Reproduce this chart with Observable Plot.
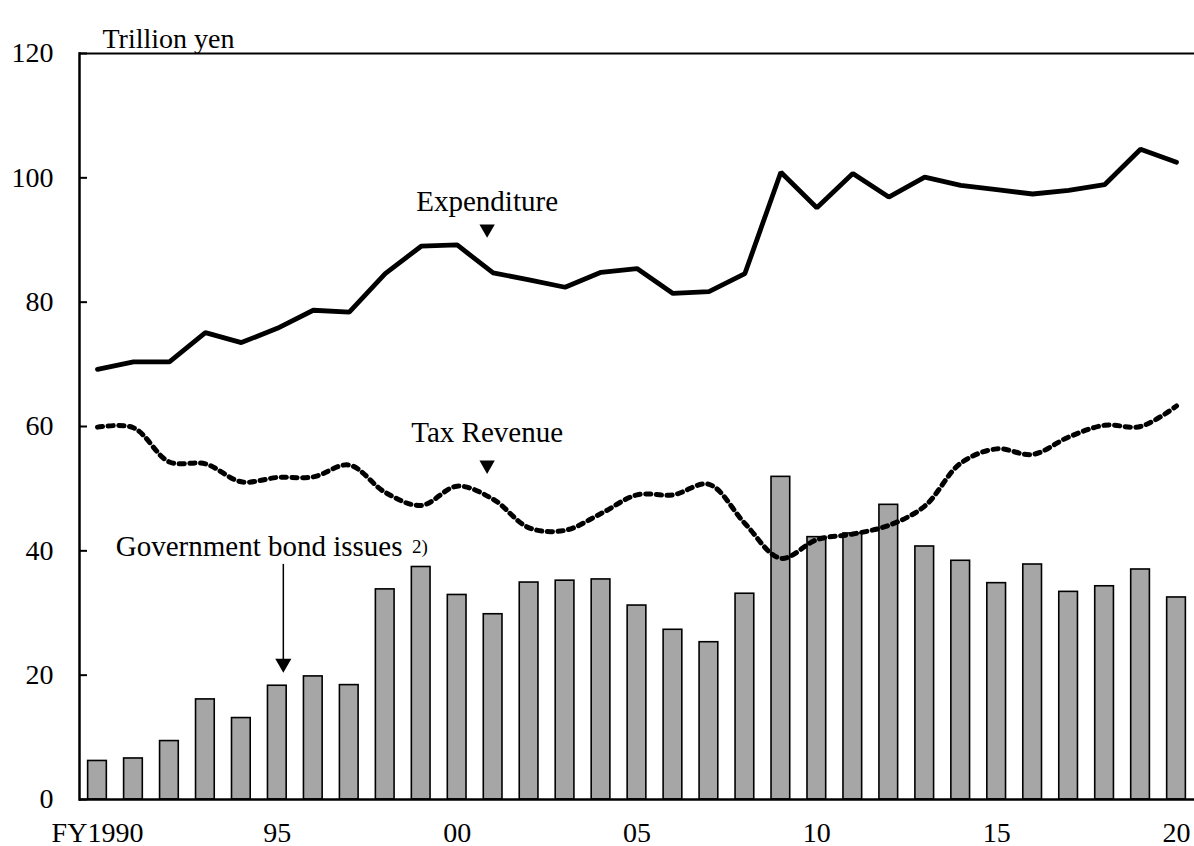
<!DOCTYPE html>
<html>
<head>
<meta charset="utf-8">
<script src="https://cdn.jsdelivr.net/npm/d3@7"></script>
<script src="https://cdn.jsdelivr.net/npm/@observablehq/plot@0.6"></script>
<style>
  body { margin: 0; background: #fff; }
  #chart svg { display: block; }
  #chart svg text { font-family: "Liberation Serif", "Times New Roman", serif; }
</style>
</head>
<body>
<div id="chart"></div>
<script>
// Fiscal years
const years = [1990, 1991, 1992, 1993, 1994, 1995, 1996, 1997, 1998, 1999,
               2000, 2001, 2002, 2003, 2004, 2005, 2006, 2007, 2008, 2009,
               2010, 2011, 2012, 2013, 2014, 2015, 2016, 2017, 2018, 2019, 2020];

// Trillion yen
const expenditure = [69.2, 70.4, 70.4, 75.1, 73.5, 75.8, 78.7, 78.4, 84.6, 89.0,
                     89.2, 84.7, 83.6, 82.4, 84.8, 85.4, 81.4, 81.7, 84.6, 100.9,
                     95.2, 100.7, 96.9, 100.1, 98.8, 98.1, 97.4, 98.0, 98.9, 104.6, 102.5];

const taxRevenue = [59.9, 59.8, 54.3, 54.0, 51.1, 51.8, 51.9, 53.8, 49.4, 47.3,
                    50.4, 48.3, 43.7, 43.3, 46.0, 49.0, 49.0, 50.7, 44.4, 38.8,
                    41.8, 42.7, 44.1, 47.2, 54.1, 56.4, 55.5, 58.3, 60.2, 60.0, 63.3];

const bondIssues = [6.2, 6.6, 9.4, 16.1, 13.1, 18.3, 19.8, 18.4, 33.8, 37.4,
                    32.9, 29.8, 34.9, 35.2, 35.4, 31.2, 27.3, 25.3, 33.1, 51.9,
                    42.2, 42.8, 47.4, 40.7, 38.4, 34.8, 37.8, 33.4, 34.3, 37.0, 32.5];

// Axis ticks
const xTickYears = [1990, 1995, 2000, 2005, 2010, 2015, 2020];
const xTickLabels = ["FY1990", "95", "00", "05", "10", "15", "20"];
const yTicks = [0, 20, 40, 60, 80, 100, 120];

// Annotations
const seriesLabels = [
  {text: "Expenditure", year: 2001, value: 96.1},
  {text: "Tax Revenue", year: 2001, value: 59.0}
];
const pointers = [
  {year: 2001, value: 91.8},
  {year: 2001, value: 53.8}
];
const bondLabel = {text: "Government bond issues", note: "2)", year: 1990, value: 40.6, noteValue: 40.7};
const bondArrow = {year: 1995, from: 37.9, to: 22.3, head: 21.9};

const rows = years.map((year, i) => ({
  year,
  expenditure: expenditure[i],
  tax: taxRevenue[i],
  bonds: bondIssues[i]
}));

const serif = '"Liberation Serif", "Times New Roman", serif';

const chart = Plot.plot({
  width: 1194,
  height: 846,
  marginLeft: 79,
  marginRight: 0,
  marginTop: 53,
  marginBottom: 47,
  style: {fontFamily: serif, fontSize: "28px", color: "#000", background: "#fff", overflow: "visible"},
  x: {type: "band", domain: years, paddingInner: 0.48, paddingOuter: 0.24, round: false, label: null},
  y: {domain: [0, 120], label: null},
  marks: [
    Plot.barY(rows, {x: "year", y: "bonds", fill: "#a6a6a6", stroke: "#000", strokeWidth: 1.6}),
    Plot.line(rows, {x: "year", y: "expenditure", stroke: "#000", strokeWidth: 4.8, strokeLinejoin: "miter"}),
    Plot.line(rows, {x: "year", y: "tax", stroke: "#000", strokeWidth: 5, strokeDasharray: "5.2,5.5", curve: "catmull-rom"}),
    Plot.ruleY([0], {stroke: "#000", strokeWidth: 2.5}),
    Plot.ruleY([120], {stroke: "#000", strokeWidth: 2}),
    Plot.frame({anchor: "left", stroke: "#000", strokeWidth: 2.5}),
    Plot.axisY({ticks: yTicks, tickSize: -8, tickPadding: 34, strokeWidth: 2, fontSize: 28,
                fontFamily: serif, label: null, tickFormat: d => String(d)}),
    Plot.axisX({ticks: xTickYears, tickSize: 0, tickPadding: 23, fontSize: 28, fontFamily: serif, label: null,
                tickFormat: d => xTickLabels[xTickYears.indexOf(d)]}),
    // annotations
    Plot.text(seriesLabels, {x: "year", y: "value", text: "text", dx: -6, fontSize: 29, fontFamily: serif}),
    Plot.dot(pointers, {x: "year", y: "value", dx: -6, symbol: "triangle", rotate: 180, r: 5.7, fill: "#000", stroke: null}),
    Plot.text([bondLabel], {x: "year", y: "value", text: "text", textAnchor: "start", dx: 18.3, fontSize: 29, fontFamily: serif}),
    Plot.text([bondLabel], {x: "year", y: "noteValue", text: "note", textAnchor: "start", dx: 314.5, fontSize: 19, fontFamily: serif}),
    Plot.link([bondArrow], {x1: "year", x2: "year", y1: "from", y2: "to", dx: 6, stroke: "#000", strokeWidth: 1.5}),
    Plot.dot([bondArrow], {x: "year", y: "head", dx: 6, symbol: "triangle", rotate: 180, r: 6, fill: "#000", stroke: null}),
    Plot.text(["Trillion yen"], {frameAnchor: "top-left", text: d => d, textAnchor: "start", dx: 23, dy: -25, fontSize: 28, fontFamily: serif})
  ]
});

document.getElementById("chart").appendChild(chart);
</script>
</body>
</html>
